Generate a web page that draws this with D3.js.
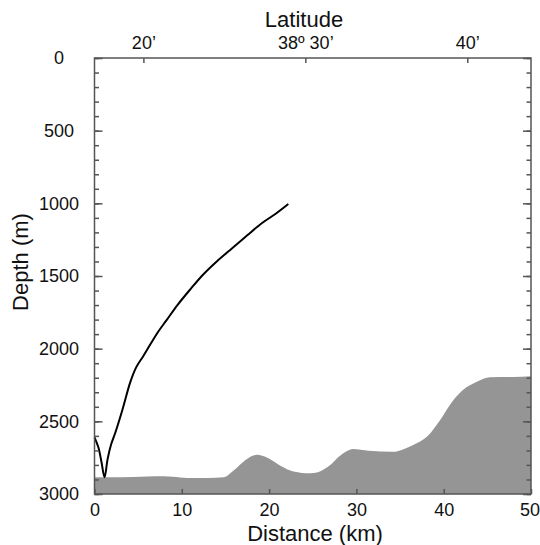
<!DOCTYPE html>
<html>
<head>
<meta charset="utf-8">
<script src="https://cdn.jsdelivr.net/npm/d3@7/dist/d3.min.js"></script>
<style>
  body { margin: 0; background: #fff; }
  svg { display: block; font-family: "Liberation Sans", Arial, sans-serif; }
</style>
</head>
<body>
<svg width="540" height="545"></svg>
<script>
// профиль (distance km, depth m)
const profileDist  = [0.0, 0.45, 0.8, 1.15, 1.5, 1.9, 2.4, 3.2, 4.1, 4.8, 5.6, 6.4, 7.2, 8.3, 9.5, 11.0, 12.4, 14.0, 15.8, 17.5, 19.2, 20.8, 22.2];
const profileDepth = [2610, 2680, 2780, 2885, 2760, 2660, 2575, 2420, 2230, 2125, 2050, 1970, 1892, 1800, 1700, 1590, 1493, 1400, 1307, 1220, 1135, 1070, 1005];

// рельеф дна
const bottomDist  = [0, 3, 6, 8, 9, 10.6, 13, 14.8, 15.9, 17.3, 18.6, 19.8, 21.3, 22.8, 24.7, 25.6, 26.7, 28.5, 29.6, 31.4, 34.2, 35.4, 36.5, 38.1, 39.6, 41.1, 42.2, 43.8, 45.3, 47.9, 50];
const bottomDepth = [2885, 2885, 2880, 2878, 2882, 2890, 2890, 2885, 2840, 2766, 2730, 2750, 2805, 2845, 2858, 2850, 2815, 2720, 2690, 2702, 2710, 2692, 2663, 2605, 2490, 2355, 2285, 2228, 2197, 2195, 2190];

// оси
const depthMajor = [0, 500, 1000, 1500, 2000, 2500, 3000];
const depthMinor = d3.range(0, 3001, 100);
const distTicks = [0, 10, 20, 30, 40, 50];
const latMinutes = [20, 30, 40];
const latLabels = ["20\u2019", "38\u00BA 30\u2019", "40\u2019"];
const latAnchorKm = [5.6, 42.7]; // положение 20' и 40' по дистанции

const svg = d3.select("svg");
const attr_area = { left: 94.5, right: 531, top: 58, bottom: 494 };

const scX = d3.scaleLinear().domain([0, 50]).range([attr_area.left, attr_area.right]);
const scY = d3.scaleLinear().domain([0, 3000]).range([attr_area.top, attr_area.bottom]);
const scLat = d3.scaleLinear().domain([20, 40]).range([scX(latAnchorKm[0]), scX(latAnchorKm[1])]);

const frameColor = "#555";
const tickFont = "18px";

// дно
const bottomData = bottomDist.map((d, i) => ({ x: d, y: bottomDepth[i] }));
const area = d3.area()
    .x(d => scX(d.x))
    .y0(scY(3000))
    .y1(d => scY(d.y))
    .curve(d3.curveMonotoneX);
svg.append("path")
    .datum(bottomData)
    .attr("d", area)
    .style("fill", "#959595");

// линия профиля
const profileData = profileDist.map((d, i) => ({ x: d, y: profileDepth[i] }));
const line = d3.line()
    .x(d => scX(d.x))
    .y(d => scY(d.y))
    .curve(d3.curveCatmullRom.alpha(0.5));
svg.append("path")
    .datum(profileData)
    .attr("d", line)
    .style("fill", "none")
    .style("stroke", "#000")
    .style("stroke-width", 2);

// оси
function styleAxis(g) {
    g.select(".domain").remove();
    g.selectAll("line").style("stroke", frameColor).style("stroke-width", 1.5);
    g.selectAll("text").style("font-size", tickFont).style("fill", "#111").style("font-family", "Liberation Sans, Arial, sans-serif");
}

// левая
svg.append("g")
    .attr("transform", `translate(${attr_area.left},0)`)
    .call(d3.axisLeft(scY).tickValues(depthMinor).tickSize(-4.5).tickFormat(""))
    .call(styleAxis);
svg.append("g")
    .attr("transform", `translate(${attr_area.left},0)`)
    .call(d3.axisLeft(scY).tickValues(depthMajor).tickSize(-8).tickPadding(35.5).tickFormat(d3.format("d")))
    .call(styleAxis)
    .selectAll("text")
    .style("text-anchor", "middle");

// правая
svg.append("g")
    .attr("transform", `translate(${attr_area.right},0)`)
    .call(d3.axisRight(scY).tickValues(depthMinor).tickSize(-4.5).tickFormat(""))
    .call(styleAxis);
svg.append("g")
    .attr("transform", `translate(${attr_area.right},0)`)
    .call(d3.axisRight(scY).tickValues(depthMajor).tickSize(-8).tickFormat(""))
    .call(styleAxis);

// нижняя
const gX = svg.append("g")
    .attr("transform", `translate(0,${attr_area.bottom})`)
    .call(d3.axisBottom(scX).tickValues(distTicks).tickSize(-5).tickPadding(9))
    .call(styleAxis);
// последняя подпись у края - сдвигаем чуть левее
gX.selectAll("text").filter(d => d === 50).attr("dx", "-1.5");

// верхняя (широта)
svg.append("g")
    .attr("transform", `translate(0,${attr_area.top})`)
    .call(d3.axisTop(scLat).tickValues(latMinutes).tickSize(-5).tickPadding(9)
        .tickFormat((d, i) => latLabels[i]))
    .call(styleAxis);

// рамка
svg.append("rect")
    .attr("x", attr_area.left)
    .attr("y", attr_area.top)
    .attr("width", attr_area.right - attr_area.left)
    .attr("height", attr_area.bottom - attr_area.top)
    .style("fill", "none")
    .style("stroke", frameColor)
    .style("stroke-width", 1.5);

// подписи осей
svg.append("text")
    .attr("x", 304)
    .attr("y", 27)
    .attr("text-anchor", "middle")
    .style("font-size", "22px")
    .style("fill", "#111")
    .text("Latitude");

svg.append("text")
    .attr("x", 315)
    .attr("y", 541)
    .attr("text-anchor", "middle")
    .style("font-size", "22px")
    .style("fill", "#111")
    .text("Distance (km)");

svg.append("text")
    .attr("transform", "translate(28,262) rotate(-90)")
    .attr("text-anchor", "middle")
    .style("font-size", "22px")
    .style("fill", "#111")
    .text("Depth (m)");
</script>
</body>
</html>
